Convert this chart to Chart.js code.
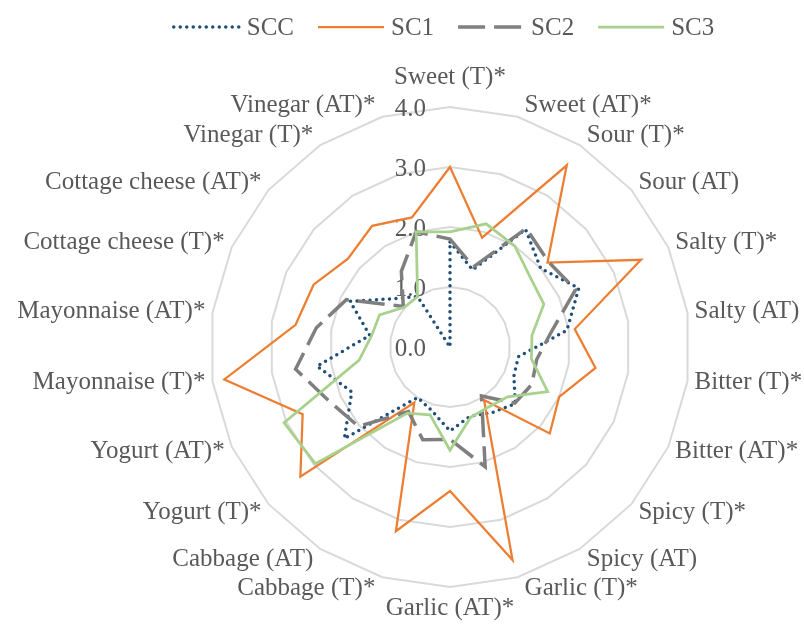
<!DOCTYPE html>
<html>
<head>
<meta charset="utf-8">
<script src="https://cdn.jsdelivr.net/npm/chart.js@4/dist/chart.umd.min.js"></script>
<style>
  html,body{margin:0;padding:0;background:#fff}
  #wrap{width:804px;height:624px}
</style>
</head>
<body>
<div id="wrap"><canvas id="chartRadar" width="804" height="624"></canvas></div>
<script>
/* =========================================================
   DATA
   ========================================================= */
const categories = [
  'Sweet (T)*','Sweet (AT)*','Sour (T)*','Sour (AT)','Salty (T)*','Salty (AT)',
  'Bitter (T)*','Bitter (AT)*','Spicy (T)*','Spicy (AT)','Garlic (T)*','Garlic (AT)*',
  'Cabbage (T)*','Cabbage (AT)','Yogurt (T)*','Yogurt (AT)*','Mayonnaise (T)*','Mayonnaise (AT)*',
  'Cottage cheese (T)*','Cottage cheese (AT)*','Vinegar (T)*','Vinegar (AT)*'
];
const seriesNames = ['SCC','SC1','SC2','SC3'];
const scc = [1.75,1.34,2.33,2.0,2.36,1.97,1.15,1.17,1.44,1.3,1.2,1.4,1.1,1.0,2.33,1.8,2.24,1.35,1.83,1.23,1.0,0];
const sc1 = [3.0,1.9,3.6,2.15,3.5,2.1,2.45,2.0,2.2,1.05,3.7,2.4,3.2,1.1,3.3,2.7,3.8,2.6,2.5,2.25,2.4,2.25];
const sc2 = [1.8,1.39,2.35,2.17,2.3,1.7,1.46,1.5,1.43,0.97,2.08,1.54,1.61,1.28,2.02,2.2,2.6,2.25,1.9,1.03,1.5,2.0];
const sc3 = [1.92,2.14,2.0,1.77,1.72,1.38,1.37,1.79,1.27,1.19,1.22,1.72,1.18,1.31,2.97,3.04,1.53,1.32,1.29,1.01,1.0,2.0];
const tickValues = [0,1,2,3,4];

const FONT = '25px "Liberation Serif", "Times New Roman", serif';
const TEXT = '#595959';

/* =========================================================
   TEXT PLUGIN (tick labels, category labels, legend)
   ========================================================= */
const radarText = {
  id:'radarText',
  beforeDatasetsDraw(chart){
    const s = chart.scales.r, ctx = chart.ctx;
    ctx.save();
    ctx.font = FONT; ctx.fillStyle = TEXT;
    ctx.textAlign = 'right'; ctx.textBaseline = 'middle';
    tickValues.forEach(v=>{
      ctx.fillText(v.toFixed(1), s.xCenter - 24, s.yCenter - s.getDistanceFromCenterForValue(v) + 2);
    });
    ctx.restore();
  },
  afterDraw(chart){
    const s = chart.scales.r, ctx = chart.ctx, R = s.drawingArea;
    ctx.save();
    ctx.font = FONT; ctx.fillStyle = TEXT; ctx.textBaseline = 'middle';
    categories.forEach((lab,i)=>{
      const p = s.getPointPosition(i, R);
      const sn = (p.x - s.xCenter)/R, cs = (s.yCenter - p.y)/R;
      if(Math.abs(sn) < 0.01){
        ctx.textAlign = 'center';
        ctx.fillText(lab, p.x, cs > 0 ? p.y - 30 : p.y + 21);
      }else{
        ctx.textAlign = sn > 0 ? 'left' : 'right';
        ctx.fillText(lab, p.x + (sn > 0 ? 7 : -7), p.y - cs*12);
      }
    });
    // legend
    const items = chart.data.datasets.map(ds=>({ds, w: ctx.measureText(ds.label).width}));
    const lineLen = 66, gap = 7, spacing = 24;
    const total = items.reduce((a,it)=>a + lineLen + gap + it.w, 0) + spacing*(items.length-1);
    let x = 444 - total/2;
    const y = 27;
    items.forEach(({ds,w})=>{
      ctx.save();
      ctx.strokeStyle = ds.borderColor; ctx.lineWidth = ds.borderWidth;
      ctx.setLineDash(ds.borderDash || []); ctx.lineCap = ds.borderCapStyle || 'butt';
      ctx.beginPath(); ctx.moveTo(x, y); ctx.lineTo(x + lineLen, y); ctx.stroke();
      ctx.restore();
      ctx.textAlign = 'left';
      ctx.fillText(ds.label, x + lineLen + gap, y + 1);
      x += lineLen + gap + w + spacing;
    });
    ctx.restore();
  }
};

/* =========================================================
   CHART
   ========================================================= */
const ctx = document.getElementById('chartRadar');
new Chart(ctx,{
  type:'radar',
  data:{
    labels: categories,
    datasets:[
      {label:seriesNames[0],data:scc,borderColor:'#1F4E79',borderWidth:3.5,borderDash:[0,6.5],borderCapStyle:'round',order:4},
      {label:seriesNames[1],data:sc1,borderColor:'#ED7D31',borderWidth:2.25,order:3},
      {label:seriesNames[2],data:sc2,borderColor:'#7F7F7F',borderWidth:3.5,borderDash:[27,9],borderCapStyle:'butt',order:2},
      {label:seriesNames[3],data:sc3,borderColor:'#A9D18E',borderWidth:2.75,order:1}
    ]
  },
  options:{
    responsive:false, animation:false, devicePixelRatio:1,
    layout:{padding:{left:210,right:114,top:107,bottom:37}},
    elements:{point:{radius:0,hoverRadius:0},line:{tension:0,fill:false,borderJoinStyle:'miter'}},
    plugins:{legend:{display:false},tooltip:{enabled:false}},
    scales:{
      r:{
        min:0,max:4,beginAtZero:true,
        ticks:{display:false,stepSize:1},
        grid:{color:'#D9D9D9',lineWidth:2},
        angleLines:{display:false},
        pointLabels:{display:false}
      }
    }
  },
  plugins:[radarText]
});
</script>
</body>
</html>
